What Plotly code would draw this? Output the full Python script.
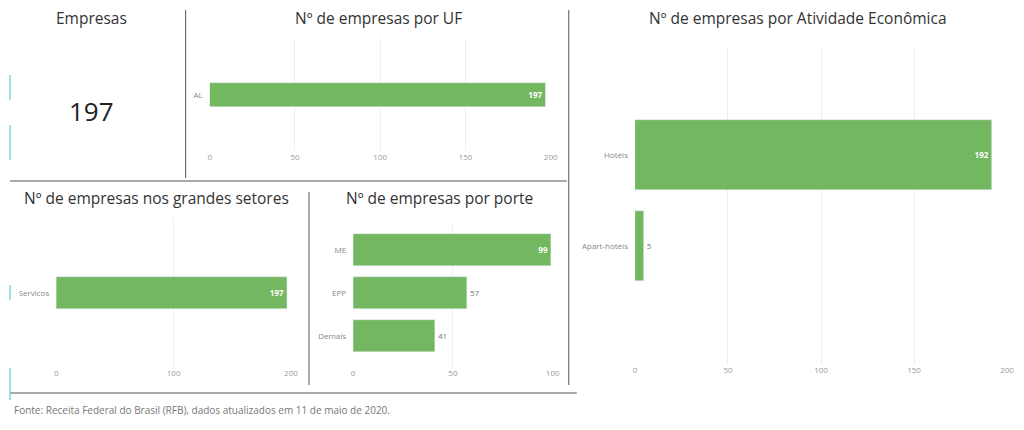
import plotly.graph_objects as go

# data
uf_cat = ['AL']
uf_val = [197]
setor_cat = ['Servicos']
setor_val = [197]
porte_cat = ['ME', 'EPP', 'Demais']
porte_val = [99, 57, 41]
ativ_cat = ['Hotéis', 'Apart-hotéis']
ativ_val = [192, 5]
total_empresas = 197

# page has an 8px body margin, so the figure is drawn a bit smaller and shifted
OFF = 8
W, H = 1024 - 2 * OFF, 430 - 2 * OFF
GREEN = '#73b761'
FONT = 'Open Sans'


def px(x):
    return min(1.0, max(0.0, (x * 1.012 - 2 - OFF) / W))


def py(y):
    return 1 - (y - OFF) / H


def cat_range(n, top_center, step, dom_top, dom_bot):
    r0 = (n - 1) - (dom_bot - top_center) / step
    r1 = r0 + (dom_bot - dom_top) / step
    return [r0, r1]


fig = go.Figure()

# (cats, vals, axis id, x0px, x1px, xmax, dom_top, dom_bot, top_center, step, bar_px, dtick)
panels = [
    (uf_cat, uf_val, '', 209, 549, 200, 38, 151, 95, 110, 24, 50),
    (setor_cat, setor_val, '2', 56, 290, 200, 218, 367, 293, 150, 32, 100),
    (porte_cat, porte_val, '3', 352, 551, 100, 225, 367, 250, 43, 32, 50),
    (ativ_cat, ativ_val, '4', 633, 1004, 200, 48, 364, 155, 91, 70, 50),
]

for cats, vals, ax, x0, x1, xmax, dtop, dbot, tc, step, bpx, dt in panels:
    n = len(cats)
    rev_c = cats[::-1]
    rev_v = vals[::-1]
    inside = [v > 0.75 * xmax for v in rev_v]
    fig.add_trace(go.Bar(
        x=rev_v, y=rev_c, orientation='h', marker_color=GREEN,
        width=bpx / step,
        text=['<b>%d</b>' % v if i else str(v) for v, i in zip(rev_v, inside)],
        textposition=['inside' if i else 'outside' for i in inside],
        insidetextanchor='end',
        textfont=dict(size=8, color=['white' if i else '#777' for i in inside], family=FONT),
        xaxis='x' + ax, yaxis='y' + ax, showlegend=False, cliponaxis=False,
    ))
    fig.layout['xaxis' + ax] = dict(
        domain=[px(x0), px(x1)], range=[0, xmax], dtick=dt, anchor='y' + ax,
        showgrid=True, gridcolor='#eeeeee', zeroline=False, showline=False,
        tickfont=dict(size=8, color='#999', family=FONT), fixedrange=True)
    fig.layout['yaxis' + ax] = dict(
        domain=[py(dbot), py(dtop)], range=cat_range(n, tc, step, dtop, dbot),
        anchor='x' + ax, categoryorder='array', categoryarray=rev_c,
        showgrid=False, zeroline=False, ticks='', ticklabelstandoff=6,
        tickfont=dict(size=8, color='#888', family=FONT))

titles = [
    ('Empresas', 91, 18),
    ('Nº de empresas por UF', 377, 18),
    ('Nº de empresas nos grandes setores', 156, 198),
    ('Nº de empresas por porte', 438, 198),
    ('Nº de empresas por Atividade Econômica', 796, 18),
]
ann = [dict(text=t, x=px(x), y=py(y), xref='paper', yref='paper', showarrow=False,
            xanchor='center', yanchor='middle',
            font=dict(size=15.5, color='#333', family=FONT)) for t, x, y in titles]
ann.append(dict(text=str(total_empresas), x=px(91), y=py(111), xref='paper', yref='paper',
                xanchor='center', yanchor='middle',
                showarrow=False, font=dict(size=26, color='#222', family=FONT)))
ann.append(dict(text='Fonte: Receita Federal do Brasil (RFB), dados atualizados em 11 de maio de 2020.',
                x=px(12), y=py(410), xref='paper', yref='paper', xanchor='left', yanchor='middle',
                showarrow=False, font=dict(size=10, color='#777', family=FONT)))

lines = [
    (8, 3, 1016, 3, '#bbbbbb', 2),
    (185, 10, 185, 178, '#555', 1),
    (10, 181, 565, 181, '#555', 1),
    (567, 10, 567, 385, '#555', 1),
    (308, 192, 308, 385, '#555', 1),
    (10, 393, 575, 393, '#555', 1),
    (9, 75, 9, 100, '#7fd3dc', 1.5),
    (9, 125, 9, 160, '#7fd3dc', 1.5),
    (9, 285, 9, 300, '#7fd3dc', 1.5),
    (9, 368, 9, 400, '#7fd3dc', 1.5),
]
shapes = [dict(type='line', xref='paper', yref='paper', x0=px(a), y0=py(b), x1=px(c), y1=py(d),
               line=dict(color=col, width=w)) for a, b, c, d, col, w in lines]

fig.update_layout(width=W, height=H, margin=dict(l=0, r=0, t=0, b=0),
                  plot_bgcolor='white', paper_bgcolor='white',
                  annotations=ann, shapes=shapes, bargap=0)
fig.write_html('out.html')
